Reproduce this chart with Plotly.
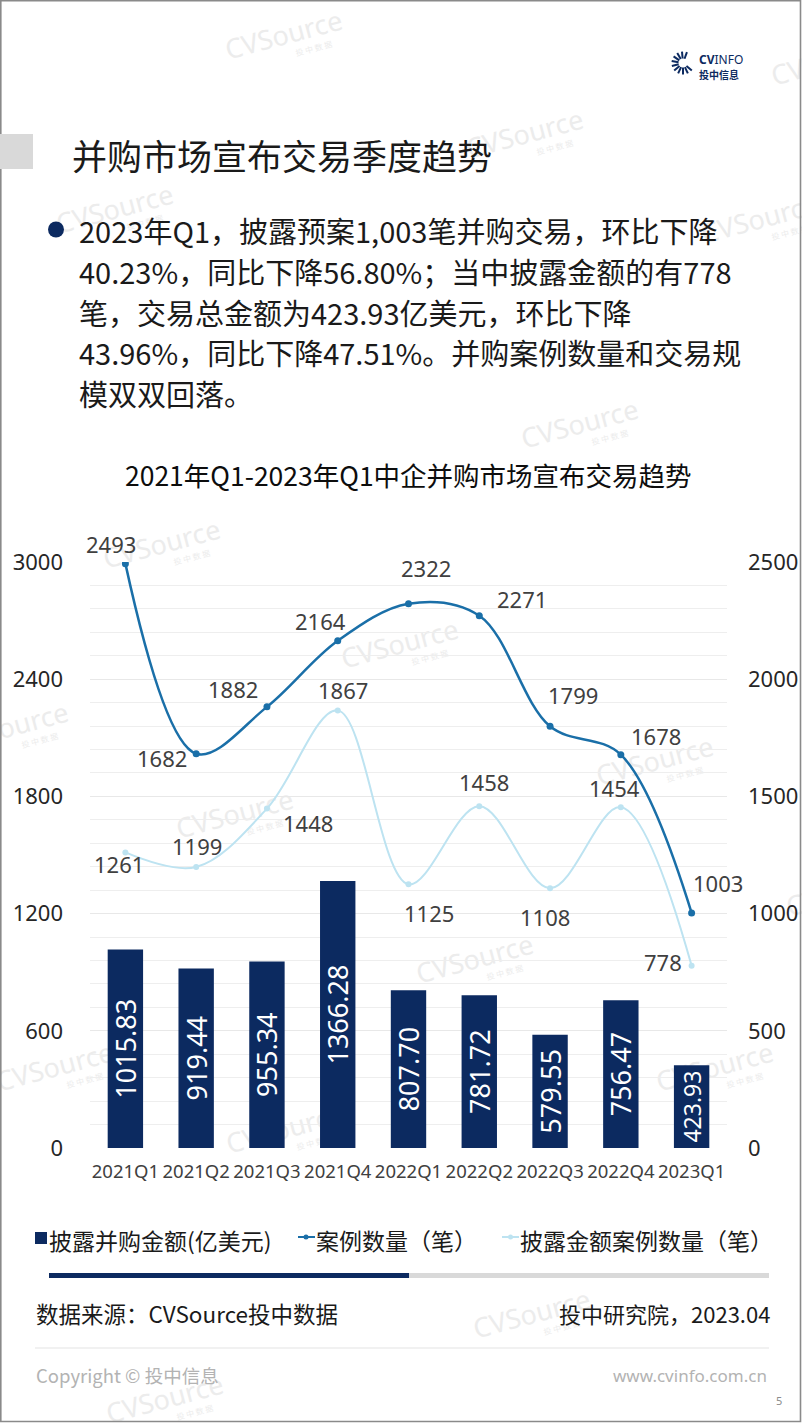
import math
import plotly.graph_objects as go

# --- data ---
quarters = ['2021Q1', '2021Q2', '2021Q3', '2021Q4', '2022Q1',
            '2022Q2', '2022Q3', '2022Q4', '2023Q1']
amount = [1015.83, 919.44, 955.34, 1366.28, 807.70, 781.72, 579.55, 756.47, 423.93]   # 亿美元
deals = [2493, 1682, 1882, 2164, 2322, 2271, 1799, 1678, 1003]                        # 案例数量
disclosed = [1261, 1199, 1448, 1867, 1125, 1458, 1108, 1454, 778]                     # 披露金额案例数量

left_ticks = [0, 600, 1200, 1800, 2400, 3000]
right_ticks = [0, 500, 1000, 1500, 2000, 2500]

# label offsets in px (dx, dy up) for the line labels
deal_off = [(-14, 20), (-34, -4), (-34, 18), (-17, 20), (17, 36),
            (43, 17), (23, 31), (35, 19), (26, 30)]
disc_off = [(-6, -12), (1, 21), (41, -14), (5, 20), (20, -29),
            (5, 24), (-5, -29), (-6, 19), (-29, 4)]
bar_font = [27, 27, 27, 27, 27, 27, 27, 27, 23]

NAVY = '#0c2a60'
BLUE = '#1a6fa8'
LIGHT = '#bde3f1'
CJK = 'Noto Sans CJK SC'
NUM = 'Noto Sans, Noto Sans CJK SC'

W, H = 802, 1423
L, R, T, B = 90, 75, 562, 275
PW, PH = W - L - R, H - T - B


def px(x):
    return (x - L) / PW


def py(y):
    return (H - B - y) / PH


fig = go.Figure()

fig.add_trace(go.Bar(
    x=quarters, y=amount, width=0.5, marker=dict(color=NAVY, line=dict(width=0)),
    text=[f'{v:.2f}' for v in amount], textposition='inside', insidetextanchor='middle',
    textangle=-90, constraintext='none',
    textfont=dict(color='white', size=bar_font, family=NUM),
    showlegend=False, hoverinfo='skip'))

fig.add_trace(go.Scatter(
    x=quarters, y=deals, yaxis='y2', mode='lines+markers',
    line=dict(shape='spline', smoothing=1, color=BLUE, width=2.5),
    marker=dict(size=7, color=BLUE), showlegend=False))

fig.add_trace(go.Scatter(
    x=quarters, y=disclosed, yaxis='y2', mode='lines+markers',
    line=dict(shape='spline', smoothing=1, color=LIGHT, width=2),
    marker=dict(size=6, color=LIGHT), showlegend=False))

ann = []
shapes = []

# line value labels
for q, v, (dx, dy) in zip(quarters, deals, deal_off):
    ann.append(dict(x=q, y=v, xref='x', yref='y2', text=str(v), showarrow=False,
                    xshift=dx, yshift=dy, font=dict(size=22, color='#404040', family=NUM)))
for q, v, (dx, dy) in zip(quarters, disclosed, disc_off):
    ann.append(dict(x=q, y=v, xref='x', yref='y2', text=str(v), showarrow=False,
                    xshift=dx, yshift=dy, font=dict(size=22, color='#404040', family=NUM)))


def txt(x, y, s, size, color='#1a1a1a', anchor='left', family=CJK):
    ann.append(dict(x=px(x), y=py(y), xref='paper', yref='paper', text=s, showarrow=False,
                    xanchor=anchor, yanchor='middle', font=dict(size=size, color=color, family=family)))


def rect(x0, y0, x1, y1, color, layer='above'):
    shapes.append(dict(type='rect', xref='paper', yref='paper', x0=px(x0), x1=px(x1),
                       y0=py(y1), y1=py(y0), fillcolor=color, line=dict(width=0), layer=layer))


def seg(x0, y0, x1, y1, color, w):
    shapes.append(dict(type='line', xref='paper', yref='paper', x0=px(x0), x1=px(x1),
                       y0=py(y0), y1=py(y1), line=dict(color=color, width=w)))


# watermarks (drawn below the traces)
marks = [(284, 36), (525, 135), (760, 220), (115, 210), (580, 425), (162, 545),
         (400, 645), (10, 728), (235, 815), (655, 762), (475, 960), (55, 1068),
         (715, 1068), (285, 1130), (845, 893), (532, 1315), (165, 1400), (830, 62)]
for (mx, my) in marks:
    shapes.append(dict(type='rect', xref='paper', yref='paper', layer='below',
                       x0=px(mx - 60), x1=px(mx + 60), y0=py(my + 14), y1=py(my - 14),
                       line=dict(width=0), fillcolor='rgba(0,0,0,0)',
                       label=dict(text='CVSource', textangle=-15,
                                  font=dict(size=27, color='#ececec', family='Noto Sans'))))
    shapes.append(dict(type='rect', xref='paper', yref='paper', layer='below',
                       x0=px(mx + 10), x1=px(mx + 50), y0=py(my + 20), y1=py(my + 6),
                       line=dict(width=0), fillcolor='rgba(0,0,0,0)',
                       label=dict(text='投 中 数 据', textangle=-15,
                                  font=dict(size=8, color='#ececec', family=CJK))))

# page border
shapes.append(dict(type='rect', xref='paper', yref='paper', x0=px(0.8), x1=px(800.5),
                   y0=py(1421.5), y1=py(0.8), line=dict(color='#8a8a8a', width=1.6),
                   fillcolor='rgba(0,0,0,0)'))

# logo
cx, cy = 683, 63
for a in [70, 95, 120, 145, 170, 195, 220, 245, 270, 295, 320]:
    r = math.radians(a)
    seg(cx + 4.5 * math.cos(r), cy - 4.5 * math.sin(r),
        cx + 11.5 * math.cos(r), cy - 11.5 * math.sin(r), NAVY, 2)
txt(697, 60, '<b>CV</b>INFO', 12, NAVY, family='Noto Sans')
txt(697, 74, '<b>投中信息</b>', 10, NAVY)

# page title
rect(0, 134, 33, 169, '#d9d9d9')
txt(70, 154, '并购市场宣布交易季度趋势', 35, '#1a1a1a')

# bullet
shapes.append(dict(type='circle', xref='paper', yref='paper', x0=px(48), x1=px(64),
                   y0=py(237.5), y1=py(221.5), fillcolor=NAVY, line=dict(width=0)))
lines = ['2023年Q1，披露预案1,003笔并购交易，环比下降',
         '40.23%，同比下降56.80%；当中披露金额的有778',
         '笔，交易总金额为423.93亿美元，环比下降',
         '43.96%，同比下降47.51%。并购案例数量和交易规',
         '模双双回落。']
for i, s in enumerate(lines):
    txt(77, 230 + i * 40.8, s, 29, '#1a1a1a')

# chart title
txt(408, 475, '2021年Q1-2023年Q1中企并购市场宣布交易趋势', 26.5, '#0d0d0d', anchor='center')

# legend
rect(35, 1232, 47, 1244, NAVY)
txt(47, 1240, '披露并购金额(亿美元)', 23, '#1a1a1a')
seg(298, 1237, 315, 1237, BLUE, 2)
shapes.append(dict(type='circle', xref='paper', yref='paper', x0=px(303.5), x1=px(308.5),
                   y0=py(1239.5), y1=py(1234.5), fillcolor=BLUE, line=dict(width=0)))
txt(314, 1240, '案例数量（笔）', 23, '#1a1a1a')
seg(502, 1237, 519, 1237, LIGHT, 2)
shapes.append(dict(type='circle', xref='paper', yref='paper', x0=px(508), x1=px(513),
                   y0=py(1239.5), y1=py(1234.5), fillcolor=LIGHT, line=dict(width=0)))
txt(518, 1240, '披露金额案例数量（笔）', 23, '#1a1a1a')

# progress bar
rect(49, 1273, 409, 1278, NAVY)
rect(409, 1273, 769, 1278, '#d9d9d9')

# source / footer
txt(34, 1313, '数据来源：CVSource投中数据', 22.5, '#1a1a1a')
txt(772, 1313, '投中研究院，2023.04', 22, '#1a1a1a', anchor='right')
seg(35, 1348, 769, 1348, '#e3e3e3', 1)
txt(34, 1375, 'Copyright © 投中信息', 18.5, '#b3b3b3')
txt(769, 1375, 'www.cvinfo.com.cn', 17, '#b3b3b3', anchor='right', family='Noto Sans')
txt(784, 1400, '5', 11, '#8c8c8c', anchor='right', family='Noto Sans')

fig.update_layout(
    width=W, height=H,
    margin=dict(l=L, r=R, t=T, b=B, autoexpand=False),
    paper_bgcolor='white', plot_bgcolor='white',
    font=dict(family=NUM, color='#262626'),
    xaxis=dict(type='category', range=[-0.5, 8.5], showgrid=False, ticks='', showline=False,
               zeroline=False, tickfont=dict(size=18.5, color='#404040'), ticklabelstandoff=10),
    yaxis=dict(range=[0, 3000], tickvals=left_ticks, showgrid=True, gridcolor='#e8e8e8',
               zeroline=False, showline=False, ticks='', ticklabelstandoff=26,
               minor=dict(dtick=120, showgrid=True, gridcolor='#eeeeee'),
               tickfont=dict(size=22, color='#262626')),
    yaxis2=dict(range=[0, 2500], tickvals=right_ticks, overlaying='y', side='right',
                showgrid=False, zeroline=False, showline=False, ticks='', ticklabelstandoff=20,
                tickfont=dict(size=22, color='#262626')),
    annotations=ann, shapes=shapes, showlegend=False,
)

# the page body has a default 8px margin; drop it so the figure sits at 0,0
fig.write_html('out.html', config={'displayModeBar': False},
               post_script="document.body.style.margin='0';document.body.style.overflow='hidden';")
